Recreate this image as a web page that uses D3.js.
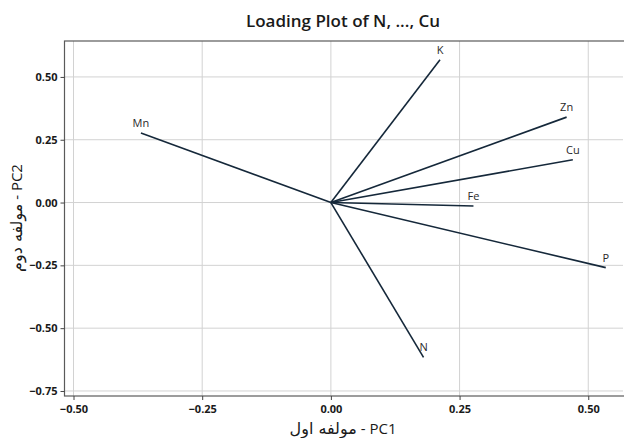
<!DOCTYPE html>
<html><head><meta charset="utf-8">
<script src="https://cdn.jsdelivr.net/npm/d3@7/dist/d3.min.js"></script>
<style>
html,body{margin:0;padding:0;background:#fff;}
svg{display:block;font-family:"Open Sans","Noto Sans","DejaVu Sans",sans-serif;}
</style></head>
<body><svg id="chart" width="624" height="438"></svg>
<script>
const variables = ["N","P","K","Fe","Mn","Cu","Zn"];
const pc1 = [0.180, 0.534, 0.212, 0.277, -0.369, 0.470, 0.458];
const pc2 = [-0.616, -0.259, 0.568, -0.014, 0.277, 0.170, 0.340];
const xTicks = [-0.50, -0.25, 0.00, 0.25, 0.50];
const yTicks = [0.50, 0.25, 0.00, -0.25, -0.50, -0.75];
const titleText = "Loading Plot of N, ..., Cu";
const xTitleFa = "مولفه اول", xTitleEn = " - PC1";
const yTitleFa = "مولفه دوم", yTitleEn = " - PC2";

const svg = d3.select("#chart");
const L = 64.5, R = 623, T = 41, B = 396;
const x = d3.scaleLinear().domain([-0.5175, 0.5675]).range([L, R]);
const y = d3.scaleLinear().domain([0.643, -0.770]).range([T, B]);

// gridlines
svg.append("g").selectAll("line").data(xTicks).join("line")
  .attr("x1", d => x(d)).attr("x2", d => x(d)).attr("y1", T).attr("y2", B)
  .attr("stroke", "#d2d2d2").attr("stroke-width", 1);
svg.append("g").selectAll("line").data(yTicks).join("line")
  .attr("x1", L).attr("x2", R).attr("y1", d => y(d)).attr("y2", d => y(d))
  .attr("stroke", "#d2d2d2").attr("stroke-width", 1);

// frame
svg.append("rect").attr("x", L).attr("y", T).attr("width", R - L + 5).attr("height", B - T)
  .attr("fill", "none").attr("stroke", "#5a5a5a").attr("stroke-width", 1.2);

// axes
const xAxis = d3.axisBottom(x).tickValues(xTicks).tickFormat(d3.format(".2f")).tickSize(4).tickSizeOuter(0);
const yAxis = d3.axisLeft(y).tickValues(yTicks).tickFormat(d3.format(".2f")).tickSize(4).tickSizeOuter(0);
const gx = svg.append("g").attr("transform", `translate(0,${B})`).call(xAxis);
const gy = svg.append("g").attr("transform", `translate(${L},0)`).call(yAxis);
[gx, gy].forEach(g => {
  g.select(".domain").remove();
  g.selectAll(".tick line").attr("stroke", "#444");
  g.selectAll(".tick text").attr("fill", "#1a1a1a").attr("font-size", 11).attr("font-weight", 700)
    .attr("font-family", "'Open Sans','Noto Sans',sans-serif");
});
gx.selectAll(".tick text").attr("dy", "0.95em");

// loading lines
const data = variables.map((v, i) => ({name: v, x: pc1[i], y: pc2[i]}));
svg.append("g").selectAll("line").data(data).join("line")
  .attr("x1", x(0)).attr("y1", y(0))
  .attr("x2", d => x(d.x)).attr("y2", d => y(d.y))
  .attr("stroke", "#15283a").attr("stroke-width", 1.6);
svg.append("g").selectAll("text").data(data).join("text")
  .attr("x", d => x(d.x)).attr("y", d => y(d.y) - 6)
  .attr("text-anchor", "middle").attr("font-size", 11).attr("fill", "#2a2a2a")
  .text(d => d.name);

// titles
svg.append("text").attr("x", 343).attr("y", 27).attr("text-anchor", "middle")
  .attr("font-size", 17).attr("font-weight", 600).attr("fill", "#1a1a1a").text(titleText);
const xt = svg.append("text").attr("x", 343).attr("y", 434).attr("text-anchor", "middle")
  .attr("font-size", 15).attr("fill", "#1a1a1a");
xt.append("tspan").attr("font-family", "'DejaVu Sans',sans-serif").attr("font-size", 16).text(xTitleFa);
xt.append("tspan").text(xTitleEn);
const yt = svg.append("text").attr("transform", "translate(22,218) rotate(-90)").attr("text-anchor", "middle")
  .attr("font-size", 15).attr("fill", "#1a1a1a");
yt.append("tspan").attr("font-family", "'DejaVu Sans',sans-serif").attr("font-size", 16).text(yTitleFa);
yt.append("tspan").text(yTitleEn);
</script></body></html>
